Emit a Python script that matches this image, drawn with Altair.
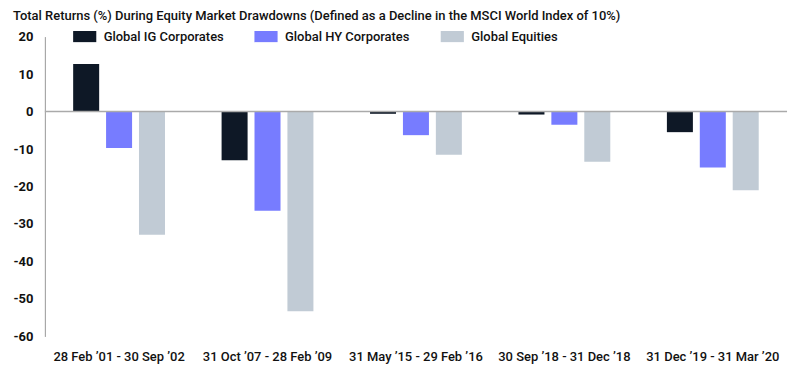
import altair as alt
import pandas as pd

periods = ["28 Feb \u201901 - 30 Sep \u201902", "31 Oct \u201907 - 28 Feb \u201909",
           "31 May \u201915 - 29 Feb \u201916", "30 Sep \u201918 - 31 Dec \u201918",
           "31 Dec \u201919 - 31 Mar \u201920"]
series = ["Global IG Corporates", "Global HY Corporates", "Global Equities"]
ig = [12.7, -13.0, -0.6, -0.8, -5.5]
hy = [-9.7, -26.5, -6.3, -3.5, -14.9]
eq = [-32.9, -53.3, -11.5, -13.4, -21.0]
colors = ["#0e1826", "#777cff", "#c1cbd5"]
y_ticks = [20, 10, 0, -10, -20, -30, -40, -50, -60]

rows = []
for i, p in enumerate(periods):
    for s, vals in zip(series, [ig, hy, eq]):
        rows.append({"period": p, "series": s, "value": vals[i]})
df = pd.DataFrame(rows)

FONT = "Roboto"

y_axis = alt.Axis(values=y_ticks, grid=False, ticks=False, domain=True,
                  domainColor="#999999", labelPadding=12, labelOverlap=False,
                  labelExpr="datum.value + ''",
                  labelFont=FONT, labelFontSize=13, labelFontWeight="bold",
                  labelColor="#111111")
y_scale = alt.Scale(domain=[-60, 20], nice=False, zero=False)

bars = alt.Chart(df).mark_bar(stroke=None).encode(
    x=alt.X("period:N", sort=periods, title=None,
            scale=alt.Scale(paddingInner=0, paddingOuter=0),
            axis=alt.Axis(labelAngle=0, domain=False, ticks=False, labelPadding=14,
                          labelFont=FONT, labelFontSize=13, labelFontWeight=500,
                          labelColor="#111111")),
    xOffset=alt.XOffset("series:N", sort=series,
                        scale=alt.Scale(paddingInner=0.21, paddingOuter=0.86)),
    y=alt.Y("value:Q", title=None, scale=y_scale, axis=y_axis),
    color=alt.Color("series:N", sort=series,
                    scale=alt.Scale(domain=series, range=colors),
                    legend=alt.Legend(title=None, orient="none", direction="horizontal",
                                      legendX=28, legendY=-12,
                                      symbolType="M-1,-0.48L1,-0.48L1,0.48L-1,0.48Z",
                                      symbolSize=540, symbolStrokeWidth=0,
                                      labelFont=FONT, labelFontSize=13, labelFontWeight=500,
                                      labelColor="#111111", columnPadding=30,
                                      labelOffset=7)),
)

zero = alt.Chart(pd.DataFrame({"z": [0]})).mark_rule(color="#aaaaaa", strokeWidth=1.5).encode(
    y=alt.Y("z:Q", title=None, scale=y_scale, axis=y_axis)
)

chart = alt.layer(bars, zero).properties(
    width=745, height=301,
    padding={"left": 4, "top": 1, "right": 5, "bottom": 5},
    title=alt.TitleParams(
        "Total Returns (%) During Equity Market Drawdowns (Defined as a Decline in the MSCI World Index of 10%)",
        anchor="start", frame="bounds", font=FONT, fontSize=13, fontWeight=500,
        color="#111111", offset=2),
).configure_view(stroke=None)

chart.save("out.html", embed_options={"renderer": "svg", "actions": False})
